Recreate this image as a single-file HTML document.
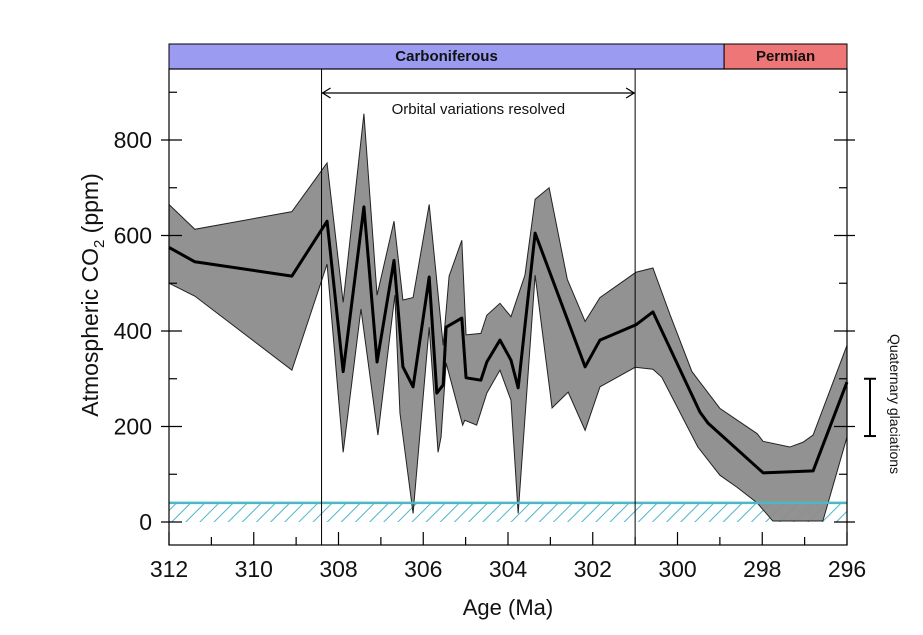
<!DOCTYPE html>
<html><head><meta charset="utf-8"><style>
body{margin:0;background:#fff;font-family:"Liberation Sans",sans-serif}
svg{display:block}
</style></head><body>
<svg id="chart" width="923" height="635">
<defs>
<pattern id="hatch" width="10" height="10" patternUnits="userSpaceOnUse" patternTransform="rotate(45)">
<line x1="0" y1="0" x2="0" y2="10" stroke="#4bb8c4" stroke-width="2"/>
</pattern>
</defs>
</svg>
<script>
const meanAge=[312.0,311.39,309.10,308.27,307.89,307.40,307.09,306.69,306.48,306.24,305.86,305.68,305.53,305.46,305.09,304.99,304.64,304.50,304.19,303.93,303.76,303.36,302.18,301.83,300.98,300.58,299.47,299.28,297.98,296.80,296.0];
const meanCO2=[575,545,515,630,315,660,335,548,325,283,513,270,287,408,427,302,297,335,381,339,281,605,325,381,413,440,230,207,103,107,293];
const upAge=[312.0,311.39,309.10,308.27,307.89,307.40,307.09,306.69,306.48,306.24,305.86,305.53,305.39,305.09,304.99,304.64,304.50,304.19,303.93,303.60,303.36,303.03,302.60,302.18,301.83,300.98,300.58,300.18,299.66,299.0,298.12,297.98,297.35,297.04,296.80,296.0];
const upCO2=[665,613,650,752,460,855,475,630,465,470,665,370,515,590,392,395,433,458,430,517,676,700,508,420,470,523,532,435,315,238,185,169,157,167,182,370];
const loAge=[312.0,311.39,309.10,308.27,307.89,307.47,307.07,306.67,306.55,306.24,305.86,305.65,305.58,305.46,305.07,305.02,304.74,304.50,304.19,303.93,303.76,303.36,302.96,302.58,302.18,301.83,301.0,300.58,300.37,299.52,299.0,298.60,298.12,297.75,296.57,296.0];
const loCO2=[500,473,318,540,146,446,182,475,228,18,408,146,178,333,203,213,203,270,318,255,18,517,239,272,192,283,324,320,303,157,98,73,40,2,2,178];
const xTicks=[312,310,308,306,304,302,300,298,296];
const yTicks=[0,200,400,600,800];
const periods=[{name:"Carboniferous",from:312,to:298.9,color:"#9b9bf2"},{name:"Permian",from:298.9,to:296,color:"#ef7676"}];

const L=169,R=847,T=69,B=545;
const X=a=>L+(312-a)*(R-L)/16;
const Y=v=>522-v*(382/800);
const svg=document.getElementById('chart');
const NS="http://www.w3.org/2000/svg";
function mk(tag,attrs,parent){const e=document.createElementNS(NS,tag);for(const k in attrs)e.setAttribute(k,attrs[k]);(parent||svg).appendChild(e);return e;}

periods.forEach(p=>{
  const r=mk('rect',{x:X(p.from),y:44,width:X(p.to)-X(p.from),height:25,fill:p.color,stroke:'#000','stroke-width':1});
  
  
  const t=mk('text',{x:(X(p.from)+X(p.to))/2,y:61,'text-anchor':'middle','font-size':15,'font-weight':'bold',fill:'#111'});
  t.textContent=p.name;
  
  
});

const band=mk('rect',{x:L,y:Y(40),width:R-L,height:Y(0)-Y(40),fill:'url(#hatch)'});



let pts=upAge.map((a,i)=>X(a)+','+Y(upCO2[i]));
for(let i=loAge.length-1;i>=0;i--)pts.push(X(loAge[i])+','+Y(loCO2[i]));
const env=mk('polygon',{points:pts.join(' '),fill:'#8c8c8c',stroke:'#222','stroke-width':1,'fill-opacity':0.95});



const bl=mk('line',{x1:L,x2:R,y1:Y(40),y2:Y(40),stroke:'#4bb8c4','stroke-width':2.5});



const ml=mk('polyline',{points:meanAge.map((a,i)=>X(a)+','+Y(meanCO2[i])).join(' '),fill:'none',stroke:'#000','stroke-width':3,'stroke-linejoin':'round'});



[308.4,301.0].forEach((a,i)=>{
  const v=mk('line',{x1:X(a),x2:X(a),y1:T,y2:B,stroke:'#000','stroke-width':1});
  
  
});
const ar=mk('g',{});


const x1=X(308.4),x2=X(301.0);
mk('line',{x1:x1,x2:x2,y1:93,y2:93,stroke:'#000','stroke-width':1.2},ar);
mk('polyline',{points:`${x1+9},88 ${x1+1},93 ${x1+9},98`,fill:'none',stroke:'#000','stroke-width':1.2},ar);
mk('polyline',{points:`${x2-9},88 ${x2-1},93 ${x2-9},98`,fill:'none',stroke:'#000','stroke-width':1.2},ar);
const ot=mk('text',{x:(x1+x2)/2,y:114,'text-anchor':'middle','font-size':15,fill:'#111'});
ot.textContent='Orbital variations resolved';



const fr=mk('rect',{x:L,y:T,width:R-L,height:B-T,fill:'none',stroke:'#000','stroke-width':1.2});



for(let a=312;a>=296;a--){
  const major=a%2===0;
  const tk=mk('line',{x1:X(a),x2:X(a),y1:B,y2:B-(major?13:8),stroke:'#000','stroke-width':1.2});
  
  
}
xTicks.forEach(a=>{
  const t=mk('text',{x:X(a),y:577,'text-anchor':'middle','font-size':23,fill:'#111'});
  t.textContent=a;
  
  
});
for(let v=0;v<=900;v+=100){
  const major=v%200===0;
  [[L,1],[R,-1]].forEach(([x0,d])=>{
    const tk=mk('line',{x1:x0-d*(major?8:0),x2:x0+d*(major?13:8),y1:Y(v),y2:Y(v),stroke:'#000','stroke-width':1.2});
    
    
  });
}
yTicks.forEach(v=>{
  const t=mk('text',{x:152,y:Y(v)+8,'text-anchor':'end','font-size':23,fill:'#111'});
  t.textContent=v;
  
  
});
const xt=mk('text',{x:508,y:615,'text-anchor':'middle','font-size':22,fill:'#111'});
xt.textContent='Age  (Ma)';


const yt=mk('text',{x:0,y:0,'text-anchor':'middle','font-size':23,fill:'#111',transform:'translate(98,295) rotate(-90)'});
yt.innerHTML='Atmospheric CO<tspan font-size="15" dy="6">2</tspan><tspan dy="-6">  (ppm)</tspan>';



const q=mk('g',{stroke:'#000','stroke-width':2});


mk('line',{x1:870,x2:870,y1:Y(300),y2:Y(180)},q);
mk('line',{x1:864,x2:876,y1:Y(300),y2:Y(300)},q);
mk('line',{x1:864,x2:876,y1:Y(180),y2:Y(180)},q);
const qt=mk('text',{x:0,y:0,'text-anchor':'middle','font-size':14,fill:'#111',transform:'translate(890,404) rotate(90)'});
qt.textContent='Quaternary glaciations';


</script>
</body></html>
